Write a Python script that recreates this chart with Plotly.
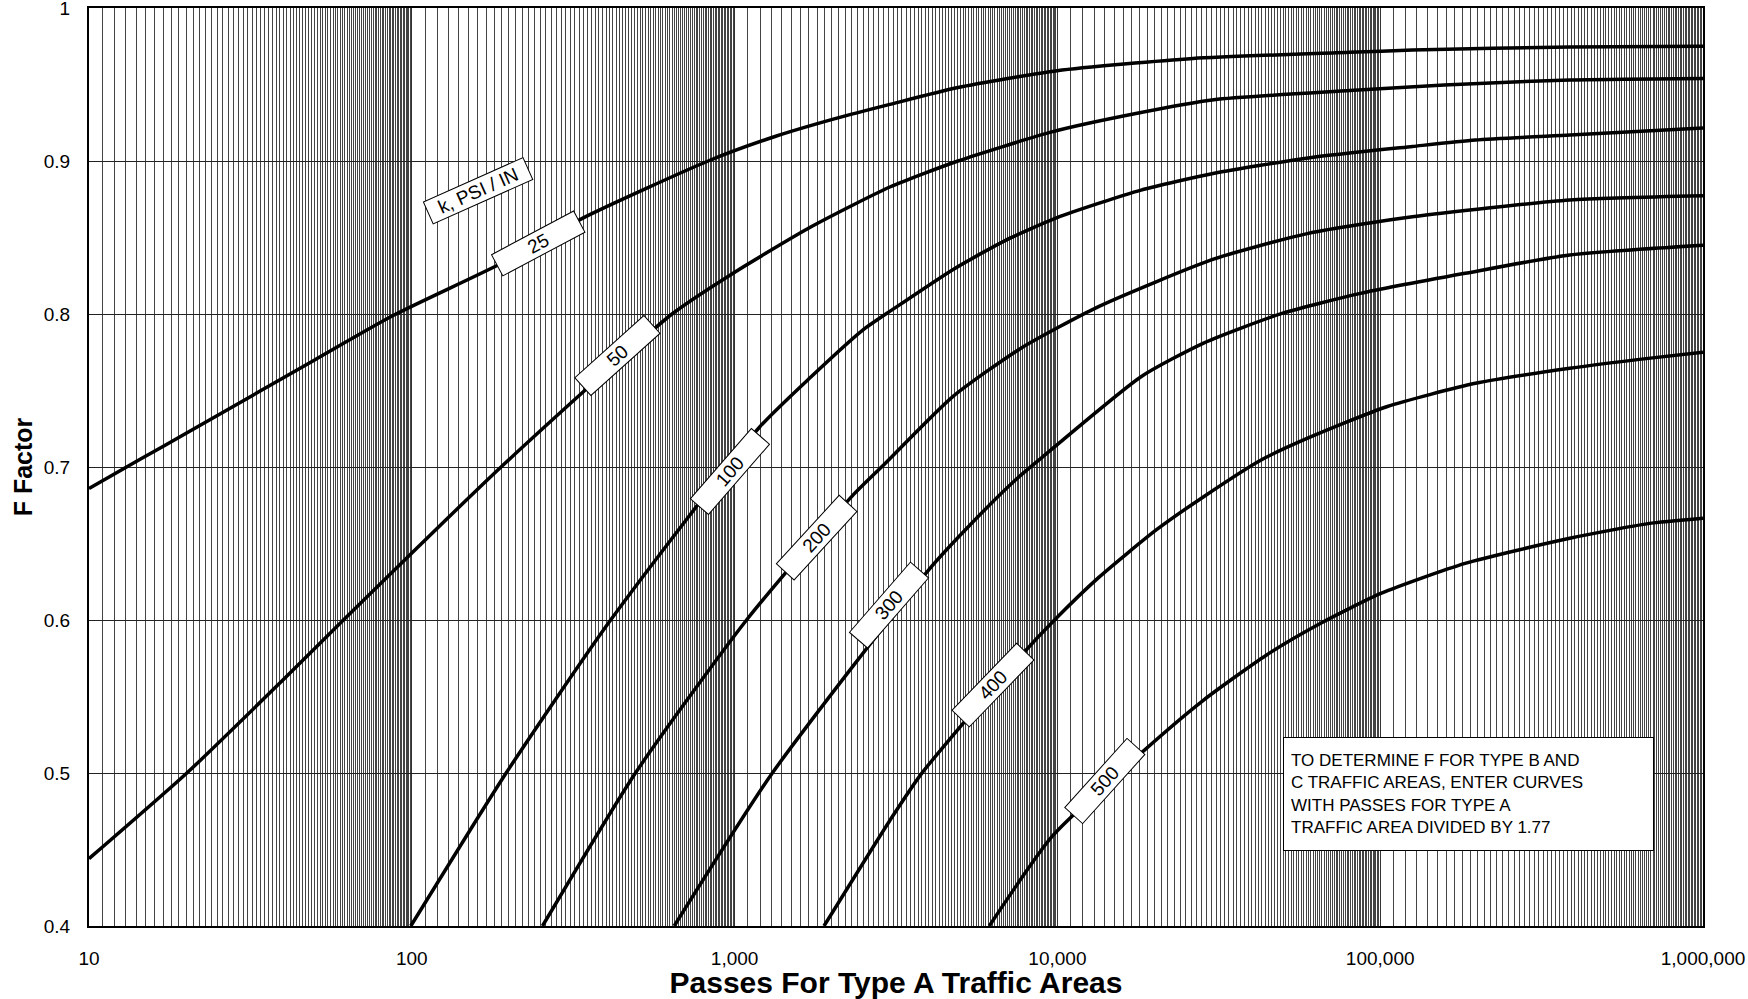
import numpy as np
import plotly.graph_objects as go

# Curves of F factor vs passes, one per modulus of subgrade reaction k (psi/in)
passes_k25 = [10, 14.4, 20, 50, 87.5, 189, 341, 828, 1334, 2075, 3027, 4920, 9977,
              26300, 80540, 125900, 387300, 1000000]
f_k25 = [0.686, 0.705, 0.722, 0.770, 0.799, 0.833, 0.863, 0.900, 0.916, 0.928, 0.937,
         0.948, 0.959, 0.967, 0.971, 0.9725, 0.9745, 0.975]

passes_k50 = [10, 20.1, 39.1, 61.4, 189, 640, 995, 1726, 3027, 4920, 9616, 17500, 30550,
              80540, 157800, 387300, 1000000]
f_k50 = [0.444, 0.500, 0.559, 0.600, 0.700, 0.800, 0.827, 0.857, 0.883, 0.900, 0.919,
         0.931, 0.940, 0.946, 0.9497, 0.953, 0.954]

passes_k100 = [99.3, 196, 413, 1194, 1726, 2495, 3090, 4742, 6887, 9977, 18160, 30620,
               59840, 125900, 197200, 387300, 1000000]
f_k100 = [0.400, 0.500, 0.600, 0.726, 0.759, 0.7895, 0.803, 0.829, 0.848, 0.863, 0.881,
          0.892, 0.902, 0.9095, 0.9137, 0.917, 0.9216]

passes_k200 = [254, 493, 1089, 2312, 2884, 4742, 7691, 13460, 30620, 59840, 125900,
               386400, 1000000]
f_k200 = [0.400, 0.500, 0.600, 0.681, 0.701, 0.746, 0.7775, 0.805, 0.836, 0.8527,
          0.8636, 0.8745, 0.8773]

passes_k300 = [650, 1309, 4000, 5297, 7413, 8933, 18160, 28380, 49660, 86900, 183200,
               386400, 1000000]
f_k300 = [0.400, 0.500, 0.633, 0.661, 0.6915, 0.706, 0.759, 0.781, 0.8004, 0.8135,
          0.8266, 0.8386, 0.845]

passes_k400 = [1892, 3027, 3784, 7816, 9795, 13460, 20280, 28380, 42760, 59840, 104700,
               197200, 386400, 676100, 1000000]
f_k400 = [0.400, 0.469, 0.4993, 0.578, 0.600, 0.628, 0.659, 0.6806, 0.7046, 0.719,
          0.7394, 0.7547, 0.7645, 0.771, 0.775]

passes_k500 = [6152, 9616, 18160, 28380, 44360, 65610, 100900, 183200, 386400, 676100,
               1000000]
f_k500 = [0.400, 0.4584, 0.513, 0.5477, 0.577, 0.598, 0.6175, 0.637, 0.6534, 0.663,
          0.6665]

x_tick_vals = [10, 100, 1000, 10000, 100000, 1000000]
x_tick_text = ["10", "100", "1,000", "10,000", "100,000", "1,000,000"]
y_tick_vals = [0.4, 0.5, 0.6, 0.7, 0.8, 0.9, 1.0]
y_tick_text = ["0.4", "0.5", "0.6", "0.7", "0.8", "0.9", "1"]

FONT = "Liberation Sans, Arial, sans-serif"

curves = [
    (passes_k25, f_k25), (passes_k50, f_k50), (passes_k100, f_k100),
    (passes_k200, f_k200), (passes_k300, f_k300), (passes_k400, f_k400),
    (passes_k500, f_k500),
]

# Fine log-paper rulings: 90 lines per decade (10, 11, ..., 99 times the decade base)
minor_vals = []
for decade in range(1, 6):
    base = 10 ** (decade - 1)
    minor_vals += [m * base for m in range(10, 100)]

fig = go.Figure()
for xs, ys in curves:
    fig.add_trace(go.Scatter(
        x=xs, y=ys, mode="lines",
        line=dict(color="black", width=3.5, shape="spline", smoothing=0.6),
        hoverinfo="skip", showlegend=False,
    ))

# Curve labels: text, passes, F, rotation, box width
curve_labels = [
    ("k, PSI / IN", 160.9, 0.8808, -24, 106),
    ("25", 246, 0.8464, -28, 90),
    ("50", 433, 0.7732, -42, 90),
    ("100", 967.6, 0.697, -49, 90),
    ("200", 1800, 0.6536, -47.5, 90),
    ("300", 2999, 0.6096, -49, 90),
    ("400", 6295, 0.5573, -46, 90),
    ("500", 14090, 0.4948, -48, 90),
]
for text, px, fy, ang, w in curve_labels:
    fig.add_annotation(
        x=np.log10(px), y=fy, xref="x", yref="y", text=text, showarrow=False,
        textangle=ang, xanchor="center", yanchor="middle",
        width=w, height=21, borderpad=1, borderwidth=1,
        bordercolor="black", bgcolor="white",
        font=dict(family=FONT, size=19, color="black"),
    )

fig.add_annotation(
    x=np.log10(50000), y=0.5235, xref="x", yref="y",
    text=("TO DETERMINE F FOR TYPE B AND<br>C TRAFFIC AREAS, ENTER CURVES<br>"
          "WITH PASSES FOR TYPE A<br>TRAFFIC AREA DIVIDED BY 1.77"),
    showarrow=False, xanchor="left", yanchor="top", align="left", valign="middle",
    width=355, height=98, borderpad=7, borderwidth=1,
    bordercolor="black", bgcolor="white",
    font=dict(family=FONT, size=17, color="black"),
)

fig.update_layout(
    width=1748, height=999,
    margin=dict(l=89, r=45, t=8, b=73),
    paper_bgcolor="white", plot_bgcolor="white",
    font=dict(family=FONT, color="black"),
)
fig.update_xaxes(
    type="log", range=[1, 6], automargin=False,
    tickmode="array", tickvals=x_tick_vals, ticktext=x_tick_text,
    tickfont=dict(family=FONT, size=19, color="black"),
    ticks="outside", ticklen=14, tickcolor="rgba(0,0,0,0)",
    ticklabeloverflow="allow",
    showgrid=True, gridcolor="#333333", gridwidth=1,
    minor=dict(tickmode="array", tickvals=minor_vals, showgrid=True,
               gridcolor="#444444", gridwidth=1, ticks=""),
    showline=True, linecolor="black", linewidth=2, mirror=True,
    zeroline=False,
    title=dict(text="Passes For Type A Traffic Areas", standoff=9,
               font=dict(family=FONT, size=30, color="black", weight="bold")),
)
fig.update_yaxes(
    range=[0.4, 1.0], automargin=False,
    tickmode="array", tickvals=y_tick_vals, ticktext=y_tick_text,
    tickfont=dict(family=FONT, size=19, color="black"),
    ticks="outside", ticklen=13, tickcolor="rgba(0,0,0,0)",
    ticklabeloverflow="allow",
    showgrid=True, gridcolor="#222222", gridwidth=1,
    showline=True, linecolor="black", linewidth=2, mirror=True,
    zeroline=False,
    title=dict(text="F Factor", standoff=4,
               font=dict(family=FONT, size=25, color="black", weight="bold")),
)

fig.write_html("out.html")
